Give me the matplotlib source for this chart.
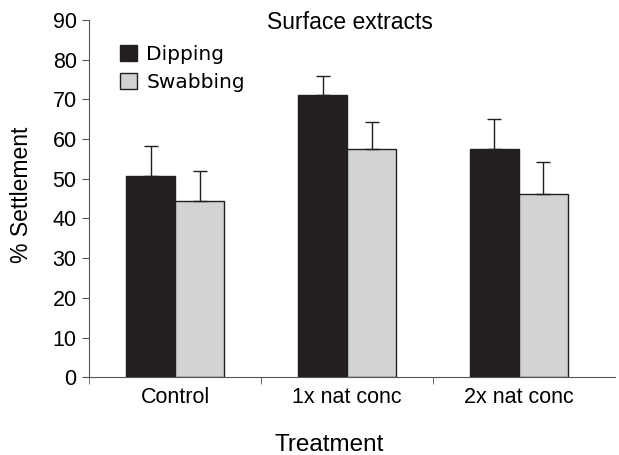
import numpy as np
import matplotlib
matplotlib.use('Agg')
import matplotlib.pyplot as plt

treatments = ['Control', '1x nat conc', '2x nat conc']
dipping = [50.6, 71.0, 57.6]
dipping_err = [7.7, 4.8, 7.4]
swabbing = [44.3, 57.6, 46.2]
swabbing_err = [7.6, 6.6, 8.1]

plt.rcParams['font.family'] = ['Liberation Sans', 'DejaVu Sans']

fig = plt.figure(figsize=(6.19, 4.55), dpi=100)
ax = fig.add_axes([0.144, 0.171, 0.85, 0.785])

x = np.arange(len(treatments))
w = 0.285
ax.bar(x - w/2, dipping, w, color='#231f20', edgecolor='#231f20', linewidth=1, label='Dipping',
       yerr=[np.zeros(3), dipping_err], error_kw=dict(ecolor='#231f20', elinewidth=1, capsize=5, capthick=1))
ax.bar(x + w/2, swabbing, w, color='#d1d3d4', edgecolor='#231f20', linewidth=1, label='Swabbing',
       yerr=[np.zeros(3), swabbing_err], error_kw=dict(ecolor='#231f20', elinewidth=1, capsize=5, capthick=1))

ax.set_ylim(0, 90)
ax.set_xlim(-0.5, 2.56)
ax.set_yticks(range(0, 91, 10))
ax.set_xticks(x)
ax.set_xticklabels(treatments)
ax.set_xticks([-0.5, 0.5, 1.5], minor=True)
ax.tick_params(axis='x', which='major', length=0, pad=7, labelsize=15.5)
ax.tick_params(axis='x', which='minor', length=5, direction='out', color='#555555')
ax.tick_params(axis='y', length=5, direction='out', labelsize=15.5, color='#555555', pad=4)
for s in ['top', 'right']:
    ax.spines[s].set_visible(False)
ax.spines['left'].set_color('#555555')
ax.spines['bottom'].set_color('#555555')

ax.text(0.496, 0.994, 'Surface extracts', transform=ax.transAxes, ha='center', va='center', fontsize=16.5)
fig.text(0.035, 0.571, '% Settlement', rotation=90, ha='center', va='center', fontsize=16.5)
fig.text(0.531, 0.022, 'Treatment', ha='center', va='center', fontsize=17.5)

leg = ax.legend(loc='upper left', bbox_to_anchor=(0.059, 0.93), frameon=False, borderpad=0,
                borderaxespad=0, prop={'family': 'DejaVu Sans', 'size': 14.5},
                handlelength=0.85, handleheight=0.85, handletextpad=0.45, labelspacing=0.45)

fig.savefig('out.png', dpi=100)
